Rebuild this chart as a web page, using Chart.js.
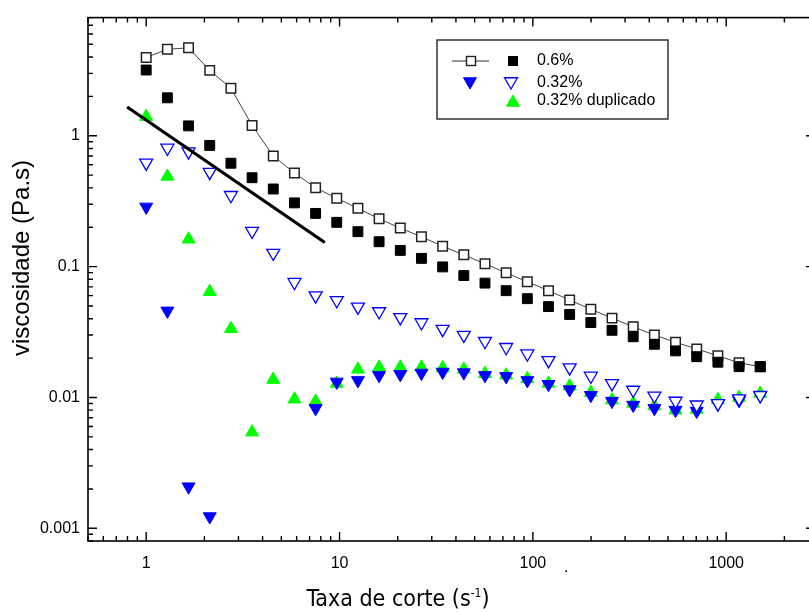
<!DOCTYPE html>
<html>
<head>
<meta charset="utf-8">
<script src="https://cdn.jsdelivr.net/npm/chart.js@4.4.1/dist/chart.umd.min.js"></script>
<style>
  html, body { margin: 0; padding: 0; background: #fff; overflow: hidden; }
  #wrap { width: 809px; height: 612px; overflow: hidden; position: relative; }
  canvas { display: block; }
</style>
</head>
<body>
<div id="wrap"><canvas id="chart" width="830" height="612"></canvas></div>
<script>
// shear rate (1/s), 30 points from 1 to 1500
const shearRate = [1, 1.287, 1.656, 2.131, 2.743, 3.529, 4.542, 5.845, 7.521, 9.676,
  12.45, 16.02, 20.62, 26.53, 34.15, 43.94, 56.54, 72.76, 93.63, 120.5,
  155.0, 199.5, 256.7, 330.4, 425.2, 547.1, 704.1, 906.1, 1166, 1500];

// 0.6% - open squares (connected) and filled squares
const visc06Open = [3.97, 4.58, 4.70, 3.16, 2.31, 1.20, 0.70, 0.52, 0.40, 0.333,
  0.279, 0.232, 0.197, 0.169, 0.143, 0.123, 0.105, 0.0896, 0.0766, 0.0655,
  0.0556, 0.0472, 0.0404, 0.0347, 0.030, 0.0264, 0.0235, 0.0208, 0.0184, 0.0172];
const visc06Filled = [3.18, 1.95, 1.19, 0.844, 0.617, 0.478, 0.392, 0.307, 0.255, 0.218,
  0.185, 0.155, 0.133, 0.1156, 0.0995, 0.0855, 0.0748, 0.0655, 0.0569, 0.0495,
  0.0431, 0.0374, 0.0326, 0.0291, 0.0255, 0.0227, 0.0205, 0.0186, 0.0172, 0.0172];

// 0.32% - open and filled down triangles
const visc032Open = [0.621, 0.807, 0.756, 0.527, 0.351, 0.187, 0.127, 0.076, 0.060, 0.0553,
  0.0492, 0.0454, 0.0409, 0.0374, 0.0333, 0.030, 0.0269, 0.0242, 0.0216, 0.0192,
  0.0169, 0.0146, 0.0128, 0.0114, 0.0103, 0.0094, 0.0088, 0.0090, 0.0098, 0.0104];
const visc032Filled = [0.286, 0.0459, 0.00208, 0.00123, null, null, null, null, 0.00826, 0.01315,
  0.0135, 0.01476, 0.01502, 0.01538, 0.01566, 0.0155, 0.01476, 0.0145, 0.0135, 0.01262,
  0.0115, 0.0104, 0.00938, 0.00875, 0.00826, 0.00801, 0.00788, 0.0089, 0.0095, 0.0103];

// 0.32% duplicado - green up triangles
const visc032Dup = [1.40, 0.489, 0.162, 0.0643, 0.0335, 0.00543, 0.0137, 0.0097, 0.0093, 0.0128,
  0.0164, 0.0170, 0.0170, 0.0170, 0.0168, 0.0164, 0.0152, 0.0148, 0.0139, 0.0128,
  0.0122, 0.0109, 0.00955, 0.0090, 0.0086, 0.0080, 0.0081, 0.0096, 0.0100, 0.0107];

// thick power-law guide line
const guideX = [0.797, 8.39];
const guideY = [1.66, 0.153];

const xTicks = [1, 10, 100, 1000];
const yTicks = [0.001, 0.01, 0.1, 1];

function toPoints(xs, ys) {
  const pts = [];
  for (let i = 0; i < xs.length; i++) {
    if (ys[i] !== null) pts.push({ x: xs[i], y: ys[i] });
  }
  return pts;
}

const fontMain = "'Liberation Sans', Arial, sans-serif";
const fontNarrow = "'Liberation Sans Narrow', 'DejaVu Sans Condensed', sans-serif";

function triangle(ctx, x, y, r, down, fill, stroke, lw) {
  const s = down ? -1 : 1;
  ctx.beginPath();
  ctx.moveTo(x, y - s * r);
  ctx.lineTo(x + r * 0.866, y + s * r / 2);
  ctx.lineTo(x - r * 0.866, y + s * r / 2);
  ctx.closePath();
  if (fill) { ctx.fillStyle = fill; ctx.fill(); }
  if (stroke) { ctx.strokeStyle = stroke; ctx.lineWidth = lw; ctx.stroke(); }
}

// frame, inward ticks, titles and legend
const decorPlugin = {
  id: 'decor',
  afterDraw(chart) {
    const ctx = chart.ctx;
    const a = chart.chartArea;
    const xs = chart.scales.x;
    const ys = chart.scales.y;
    ctx.save();

    ctx.strokeStyle = '#000';
    ctx.lineWidth = 1.6;
    ctx.strokeRect(a.left, a.top, a.right - a.left, a.bottom - a.top);

    ctx.lineWidth = 1.4;
    ctx.beginPath();
    for (let e = -1; e <= 3; e++) {
      for (let m = 1; m <= 9; m++) {
        const v = m * Math.pow(10, e);
        if (v < xs.min || v > xs.max) continue;
        const px = xs.getPixelForValue(v);
        const len = m === 1 ? 9 : 5;
        ctx.moveTo(px, a.bottom); ctx.lineTo(px, a.bottom - len);
        ctx.moveTo(px, a.top); ctx.lineTo(px, a.top + len);
      }
    }
    for (let e = -4; e <= 0; e++) {
      for (let m = 1; m <= 9; m++) {
        const v = m * Math.pow(10, e);
        if (v < ys.min || v > ys.max) continue;
        const py = ys.getPixelForValue(v);
        const len = m === 1 ? 9 : 5;
        ctx.moveTo(a.left, py); ctx.lineTo(a.left + len, py);
        ctx.moveTo(a.right, py); ctx.lineTo(a.right - len, py);
      }
    }
    ctx.stroke();

    // y title
    ctx.fillStyle = '#000';
    ctx.save();
    ctx.translate(22, 258);
    ctx.rotate(-Math.PI / 2);
    ctx.font = '24px ' + fontMain;
    ctx.textAlign = 'center';
    ctx.textBaseline = 'middle';
    ctx.fillText('viscosidade (Pa.s)', 0, 0);
    ctx.restore();

    // x title with superscript
    const t1 = 'Taxa de corte (s', t2 = '-1', t3 = ')';
    ctx.textBaseline = 'alphabetic';
    ctx.textAlign = 'left';
    ctx.font = '23px ' + fontNarrow;
    const w1 = ctx.measureText(t1).width, w3 = ctx.measureText(t3).width;
    ctx.font = '12px ' + fontNarrow;
    const w2 = ctx.measureText(t2).width;
    let tx = 398 - (w1 + w2 + w3) / 2;
    const base = 606;
    ctx.font = '23px ' + fontNarrow;
    ctx.fillText(t1, tx, base);
    tx += w1;
    ctx.font = '12px ' + fontNarrow;
    ctx.fillText(t2, tx, base - 9);
    tx += w2;
    ctx.font = '23px ' + fontNarrow;
    ctx.fillText(t3, tx, base);

    // stray dot next to the 100 label
    ctx.font = '16px ' + fontMain;
    ctx.fillText('.', 564, 572);

    // legend
    ctx.strokeStyle = '#333';
    ctx.lineWidth = 1.5;
    ctx.strokeRect(437, 40, 231, 79);
    const r1 = 61, r2 = 83, r3 = 101;
    ctx.strokeStyle = '#333';
    ctx.lineWidth = 1;
    ctx.beginPath(); ctx.moveTo(452, r1); ctx.lineTo(489, r1); ctx.stroke();
    ctx.fillStyle = '#fff';
    ctx.fillRect(466.5, r1 - 4.5, 9, 9);
    ctx.strokeStyle = '#222';
    ctx.lineWidth = 1.4;
    ctx.strokeRect(466.5, r1 - 4.5, 9, 9);
    ctx.fillStyle = '#000';
    ctx.fillRect(508, r1 - 5, 10, 10);
    triangle(ctx, 470, r2 - 1.5, 7.5, true, '#0000ff', '#0000ff', 1);
    triangle(ctx, 511, r2 - 1.5, 7.5, true, '#fff', '#0000ff', 1.3);
    triangle(ctx, 513, r3 + 1.5, 7.5, false, '#00ff00', '#00ff00', 1);
    ctx.fillStyle = '#000';
    ctx.font = '16px ' + fontMain;
    ctx.textBaseline = 'middle';
    ctx.fillText('0.6%', 537, r1);
    ctx.fillText('0.32%', 537, r2);
    ctx.fillText('0.32% duplicado', 537, r3);

    ctx.restore();
  }
};

const ctx = document.getElementById('chart').getContext('2d');
new Chart(ctx, {
  type: 'scatter',
  data: {
    datasets: [
      {
        label: 'guide',
        data: toPoints(guideX, guideY),
        showLine: true,
        borderColor: '#000',
        borderWidth: 3.2,
        pointRadius: 0,
        order: 0
      },
      {
        label: '0.6% filled',
        data: toPoints(shearRate, visc06Filled),
        pointStyle: 'rect',
        pointRadius: 7,
        backgroundColor: '#000',
        borderColor: '#000',
        borderWidth: 1,
        order: 1
      },
      {
        label: '0.6%',
        data: toPoints(shearRate, visc06Open),
        showLine: true,
        borderColor: '#444',
        borderWidth: 1,
        pointStyle: 'rect',
        pointRadius: 6.7,
        pointBackgroundColor: '#fff',
        pointBorderColor: '#222',
        pointBorderWidth: 1.5,
        order: 2
      },
      {
        label: '0.32% open',
        data: toPoints(shearRate, visc032Open),
        pointStyle: 'triangle',
        rotation: 180,
        pointRadius: 7.5,
        backgroundColor: '#fff',
        borderColor: '#0000ff',
        borderWidth: 1.3,
        order: 3
      },
      {
        label: '0.32%',
        data: toPoints(shearRate, visc032Filled),
        pointStyle: 'triangle',
        rotation: 180,
        pointRadius: 7.5,
        backgroundColor: '#0000ff',
        borderColor: '#0000ff',
        borderWidth: 1,
        order: 4
      },
      {
        label: '0.32% duplicado',
        data: toPoints(shearRate, visc032Dup),
        pointStyle: 'triangle',
        pointRadius: 7.5,
        backgroundColor: '#00ff00',
        borderColor: '#00ff00',
        borderWidth: 1,
        order: 5
      }
    ]
  },
  options: {
    responsive: false,
    animation: false,
    layout: { padding: { top: 9, right: 15, left: 0, bottom: 0 } },
    plugins: {
      legend: { display: false },
      tooltip: { enabled: false }
    },
    scales: {
      x: {
        type: 'logarithmic',
        position: 'bottom',
        min: 0.5,
        max: 2880,
        grid: { display: false, drawTicks: false },
        border: { display: false },
        afterBuildTicks: (s) => { s.ticks = xTicks.map(v => ({ value: v })); },
        afterFit: (s) => { s.height = 71; },
        ticks: {
          autoSkip: false,
          maxRotation: 0,
          padding: 13,
          color: '#000',
          font: { family: fontMain, size: 16 },
          callback: (v) => String(v)
        }
      },
      y: {
        type: 'logarithmic',
        min: 0.0008,
        max: 8,
        grid: { display: false, drawTicks: false },
        border: { display: false },
        afterBuildTicks: (s) => { s.ticks = yTicks.map(v => ({ value: v })); },
        afterFit: (s) => { s.width = 88; },
        ticks: {
          autoSkip: false,
          padding: 8,
          color: '#000',
          font: { family: fontMain, size: 16 },
          callback: (v) => String(v)
        }
      }
    }
  },
  plugins: [decorPlugin]
});
</script>
</body>
</html>
